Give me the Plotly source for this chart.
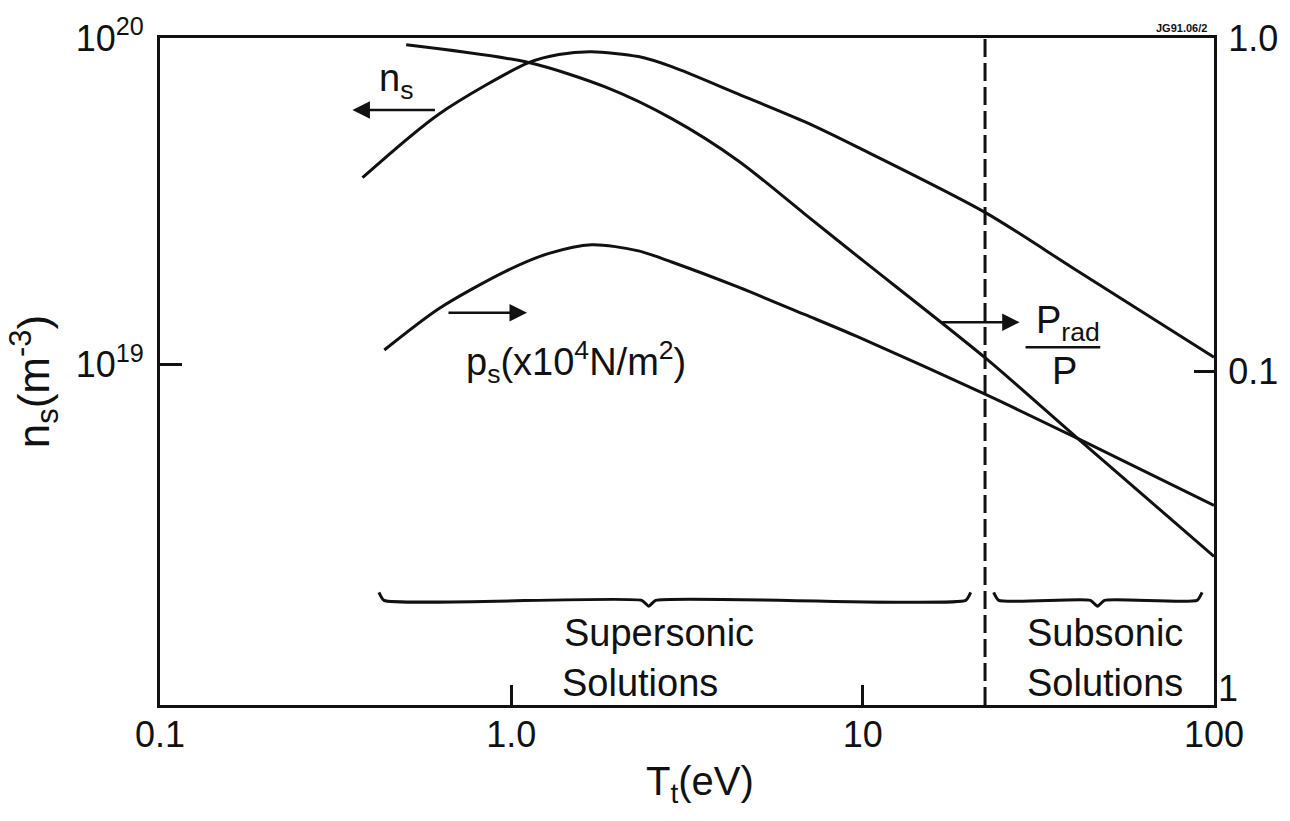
import numpy as np
import plotly.graph_objects as go

# ---------------- data ----------------
# n_s (left axis, m^-3)
T_ns = [0.377, 0.623, 1.12, 1.366, 1.69, 2.30, 2.86, 4.43, 6.86, 9.7, 22.3, 40.9, 100]
ns = [3.73e19, 5.85e19, 8.4e19, 8.9e19, 9.07e19, 8.77e19, 8.17e19, 6.73e19,
      5.53e19, 4.62e19, 2.92e19, 1.93e19, 1.05e19]

# P_rad / P (right axis)
T_prad = [0.502, 1.12, 1.857, 2.86, 4.43, 6.86, 9.7, 22.3, 40.9, 100]
prad = [0.954, 0.844, 0.712, 0.573, 0.428, 0.296, 0.221, 0.110, 0.063, 0.0279]

# p_s (right axis, x10^4 N/m^2)
T_ps = [0.435, 0.623, 0.966, 1.28, 1.69, 2.30, 2.86, 4.43, 6.86, 9.7, 22.3, 40.9, 100]
ps = [0.116, 0.1545, 0.200, 0.226, 0.240, 0.230, 0.213, 0.179, 0.148, 0.127,
      0.0855, 0.063, 0.0397]

# boundary between supersonic and subsonic solutions (eV)
T_boundary = 22.3

# braces: (left T, tip T, right T)
braces = [(0.42, 2.46, 20.3), (23.6, 46.6, 92.5)]
brace_level = 0.0206   # right-axis value of brace line

x_ticks = [0.1, 1, 10, 100]
x_ticktext = ["0.1", "1.0", "10", "100"]
yl_ticks = [1e19, 1e20]
yl_ticktext = ["10<sup>19</sup>", "10<sup>20</sup>"]
yr_ticks = [0.1, 1.0]
yr_ticktext = ["0.1", "1.0"]

FONT = "Liberation Sans, Arial, Helvetica, sans-serif"
INK = "#111111"

fig = go.Figure()

line_style = dict(color=INK, width=3, shape="spline", smoothing=0.8)
fig.add_trace(go.Scatter(x=T_ns, y=ns, mode="lines", yaxis="y", line=line_style,
                         hoverinfo="skip", showlegend=False))
fig.add_trace(go.Scatter(x=T_prad, y=prad, mode="lines", yaxis="y2", line=line_style,
                         hoverinfo="skip", showlegend=False))
fig.add_trace(go.Scatter(x=T_ps, y=ps, mode="lines", yaxis="y2", line=line_style,
                         hoverinfo="skip", showlegend=False))

# dashed boundary line
fig.add_trace(go.Scatter(x=[T_boundary, T_boundary], y=[0.01, 1.0], mode="lines", yaxis="y2",
                         line=dict(color=INK, width=3, dash="18px,6px"),
                         hoverinfo="skip", showlegend=False))

# braces built from their ranges
curl = 10 ** (5 / 352.3)
tipw = 10 ** (7 / 352.3)
for (a, tip, b) in braces:
    up = brace_level * 10 ** (8 / 339)
    down = brace_level / 10 ** (6 / 339)
    bx = [a, a * curl, tip / tipw, tip, tip * tipw, b / curl, b]
    by = [up, brace_level, brace_level, down, brace_level, brace_level, up]
    fig.add_trace(go.Scatter(x=bx, y=by, mode="lines", yaxis="y2",
                             line=dict(color=INK, width=3, shape="spline", smoothing=0.5),
                             hoverinfo="skip", showlegend=False))

lx = np.log10

ann = []
# arrows (head at x,y; tail offset in px)
arrow = dict(text="", showarrow=True, arrowhead=2, arrowsize=1.4, arrowwidth=2.5,
             arrowcolor=INK, standoff=0)
ann.append(dict(x=lx(0.353), y=lx(6.02e19), xref="x", yref="y", ax=84, ay=0, **arrow))
ann.append(dict(x=lx(1.108), y=lx(0.150), xref="x", yref="y2", ax=-80, ay=0, **arrow))
ann.append(dict(x=lx(27.98), y=lx(0.1405), xref="x", yref="y2", ax=-79, ay=0, **arrow))

big = dict(family=FONT, size=38, color=INK)
ann.append(dict(x=lx(0.471), y=lx(7.36e19), xref="x", yref="y", text="n<sub>s</sub>",
                showarrow=False, font=big, xanchor="center", yanchor="middle"))
ann.append(dict(x=lx(1.527), y=lx(0.107), xref="x", yref="y2",
                text="p<sub>s</sub>(x10<sup>4</sup>N/m<sup>2</sup>)",
                showarrow=False, font=big, xanchor="center", yanchor="middle"))
ann.append(dict(x=lx(38.3), y=lx(0.1395), xref="x", yref="y2", text="P<sub>rad</sub>",
                showarrow=False, font=big, xanchor="center", yanchor="middle"))
ann.append(dict(x=lx(37.5), y=lx(0.1006), xref="x", yref="y2", text="P",
                showarrow=False, font=big, xanchor="center", yanchor="middle"))

for txt, T, yp in [("Supersonic", 2.626, 0.1078), ("Solutions", 2.319, 0.0325),
                   ("Subsonic", 49.1, 0.1078), ("Solutions", 48.8, 0.0325)]:
    ann.append(dict(x=lx(T), y=yp, xref="x", yref="paper", text=txt, showarrow=False,
                    font=big, xanchor="center", yanchor="middle"))

# axis titles
ann.append(dict(x=-0.1192, y=0.4845, xref="paper", yref="paper",
                text="n<sub>s</sub>(m<sup>-3</sup>)", textangle=-90, showarrow=False,
                font=dict(family=FONT, size=44, color=INK), xanchor="center", yanchor="middle"))
ann.append(dict(x=0.5128, y=-0.118, xref="paper", yref="paper",
                text="T<sub>t</sub>(eV)", showarrow=False,
                font=dict(family=FONT, size=40, color=INK), xanchor="center", yanchor="middle"))
# figure code and truncated bottom right label
ann.append(dict(x=0.9953, y=1.0148, xref="paper", yref="paper", text="<b>JG91.06/2</b>",
                showarrow=False, font=dict(family=FONT, size=11, color=INK),
                xanchor="right", yanchor="middle"))
ann.append(dict(x=1.0133, y=0.0251, xref="paper", yref="paper", text="1",
                showarrow=False, font=dict(family=FONT, size=36, color=INK),
                xanchor="center", yanchor="middle"))

shapes = [dict(type="line", xref="paper", yref="paper", x0=0.8212, x1=0.8921,
               y0=0.5362, y1=0.5362, line=dict(color=INK, width=2.5))]

tickfont = dict(family=FONT, size=36, color=INK)
fig.update_layout(
    width=1290, height=821,
    margin=dict(l=160, r=73, t=28, b=116),
    paper_bgcolor="white", plot_bgcolor="white",
    showlegend=False,
    xaxis=dict(type="log", range=[-1, 2], tickvals=x_ticks, ticktext=x_ticktext,
               ticks="inside", ticklen=20, tickwidth=2.5, tickcolor=INK,
               showline=True, linewidth=3, linecolor=INK, mirror=True,
               showgrid=False, zeroline=False, tickfont=tickfont, ticklabelstandoff=-4),
    yaxis=dict(type="log", range=[17.955, 20], tickvals=yl_ticks, ticktext=yl_ticktext,
               ticks="inside", ticklen=22, tickwidth=2.5, tickcolor=INK,
               showline=True, linewidth=3, linecolor=INK,
               showgrid=False, zeroline=False, tickfont=tickfont, ticklabelstandoff=6),
    yaxis2=dict(type="log", range=[-2, 0], tickvals=yr_ticks, ticktext=yr_ticktext,
                overlaying="y", side="right",
                ticks="inside", ticklen=20, tickwidth=2.5, tickcolor=INK,
                showline=True, linewidth=3, linecolor=INK,
                showgrid=False, zeroline=False, tickfont=tickfont, ticklabelstandoff=4),
    annotations=ann,
    shapes=shapes,
)

fig.write_html("out.html", config={"displayModeBar": False},
               post_script="document.body.style.margin='0';")
